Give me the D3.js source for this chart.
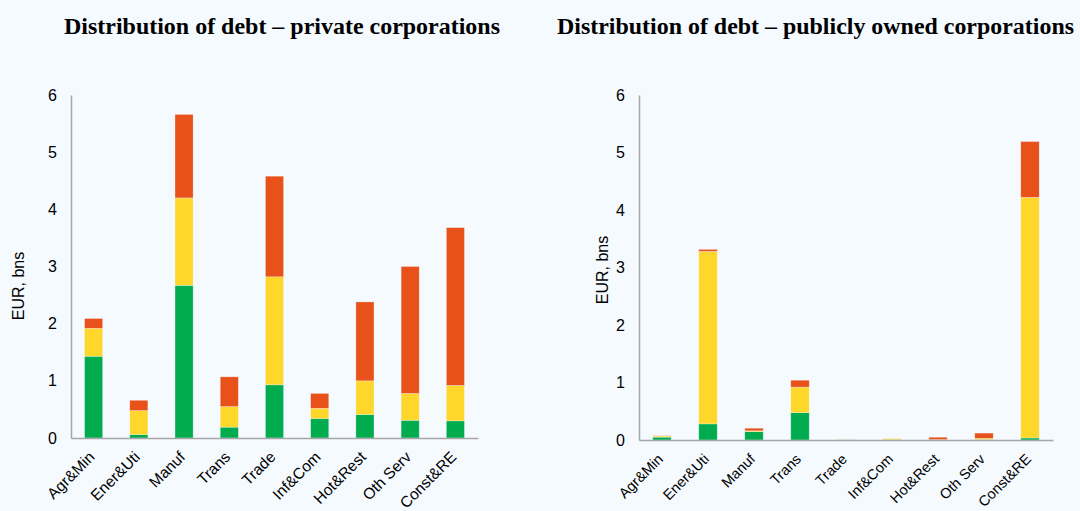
<!DOCTYPE html>
<html>
<head>
<meta charset="utf-8">
<script src="https://cdn.jsdelivr.net/npm/d3@7"></script>
<style>
  body { margin: 0; background: #f5faff; }
  svg { display: block; }
</style>
</head>
<body>
<div id="chart"></div>
<script>
// sectors on the x axis
const sectors = ["Agr&Min", "Ener&Uti", "Manuf", "Trans", "Trade", "Inf&Com", "Hot&Rest", "Oth Serv", "Const&RE"];
const yTicks = [0, 1, 2, 3, 4, 5, 6];
const seriesKeys = ["green", "yellow", "red"];
const seriesColors = ["#00ac4e", "#ffd72a", "#e8511a"];

// private corporations (EUR bn)
const privGreen  = [1.43, 0.06, 2.67, 0.19, 0.93, 0.34, 0.41, 0.31, 0.30];
const privYellow = [0.49, 0.42, 1.53, 0.36, 1.89, 0.18, 0.59, 0.47, 0.62];
const privRed    = [0.17, 0.18, 1.46, 0.52, 1.76, 0.26, 1.38, 2.22, 2.76];

// publicly owned corporations (EUR bn)
const pubGreen  = [0.05, 0.28, 0.145, 0.475, 0.002, 0.005, 0.003, 0.005, 0.035];
const pubYellow = [0.02, 3.00, 0.015, 0.445, 0.002, 0.02, 0.005, 0.025, 4.185];
const pubRed    = [0.005, 0.035, 0.045, 0.12, 0.0, 0.0, 0.04, 0.09, 0.97];

const W = 1080, H = 511;
const svg = d3.select("#chart").append("svg")
    .attr("width", W)
    .attr("height", H);

svg.append("rect").attr("width", W).attr("height", H).attr("fill", "#f5faff");

function drawPanel(opts) {
    const data = sectors.map((s, i) => ({
        sector: s, green: opts.g[i], yellow: opts.y[i], red: opts.r[i]
    }));

    const x = d3.scaleBand()
        .domain(sectors)
        .range([opts.x0, opts.x1])
        .paddingInner(0.6)
        .paddingOuter(0.3);

    const y = d3.scaleLinear()
        .domain([0, 6])
        .range([opts.yBottom, opts.yTop]);

    // title
    svg.append("text")
        .attr("x", opts.titleX)
        .attr("y", 34)
        .attr("textLength", opts.titleLen)
        .attr("lengthAdjust", "spacingAndGlyphs")
        .style("font-family", "'Liberation Serif', 'Times New Roman', serif")
        .style("font-weight", "bold")
        .style("font-size", "23px")
        .style("fill", "#000")
        .text(opts.title);

    const stack = d3.stack().keys(seriesKeys)(data);

    svg.append("g")
        .selectAll("g")
        .data(stack)
        .join("g")
        .attr("fill", (d, i) => seriesColors[i])
        .selectAll("rect")
        .data(d => d)
        .join("rect")
        .attr("x", d => x(d.data.sector))
        .attr("y", d => y(d[1]))
        .attr("width", x.bandwidth())
        .attr("height", d => Math.max(0, y(d[0]) - y(d[1])))
        .attr("stroke", "#f5faff")
        .attr("stroke-opacity", 0.5)
        .attr("stroke-width", 0.6);

    // y axis
    const yAxis = svg.append("g")
        .attr("transform", `translate(${opts.x0},0)`)
        .call(d3.axisLeft(y).tickValues(yTicks).tickSize(0).tickPadding(14).tickFormat(d3.format("d")));
    yAxis.select(".domain").attr("stroke", "#a6a6a6").attr("stroke-width", 1.5);
    yAxis.selectAll("text")
        .style("font-family", "'Liberation Sans', Arial, sans-serif")
        .style("font-size", "16px")
        .style("fill", "#000");

    // x axis
    const xAxis = svg.append("g")
        .attr("transform", `translate(0,${opts.yBottom})`)
        .call(d3.axisBottom(x).tickSize(0).tickPadding(0));
    xAxis.select(".domain").attr("stroke", "#a6a6a6").attr("stroke-width", 1.5);
    xAxis.selectAll("text")
        .style("font-family", "'Liberation Sans', Arial, sans-serif")
        .style("font-size", opts.xFont)
        .style("fill", "#000")
        .attr("text-anchor", "end")
        .attr("dy", "0")
        .attr("y", 0)
        .attr("transform", "translate(2,20) rotate(-45)");

    // y axis label
    svg.append("text")
        .attr("transform", `translate(${opts.labelX},${opts.labelY}) rotate(-90)`)
        .attr("text-anchor", "middle")
        .style("font-family", "'Liberation Sans', Arial, sans-serif")
        .style("font-size", "16px")
        .style("fill", "#000")
        .text("EUR, bns");
}

drawPanel({
    title: "Distribution of debt \u2013 private corporations",
    titleX: 64, titleLen: 436,
    x0: 71, x1: 478, yTop: 95, yBottom: 438,
    labelX: 24, labelY: 286,
    xFont: "15.5px",
    g: privGreen, y: privYellow, r: privRed
});

drawPanel({
    title: "Distribution of debt \u2013 publicly owned corporations",
    titleX: 557, titleLen: 517,
    x0: 639, x1: 1053, yTop: 95, yBottom: 440,
    labelX: 608, labelY: 270,
    xFont: "14.5px",
    g: pubGreen, y: pubYellow, r: pubRed
});
</script>
</body>
</html>
